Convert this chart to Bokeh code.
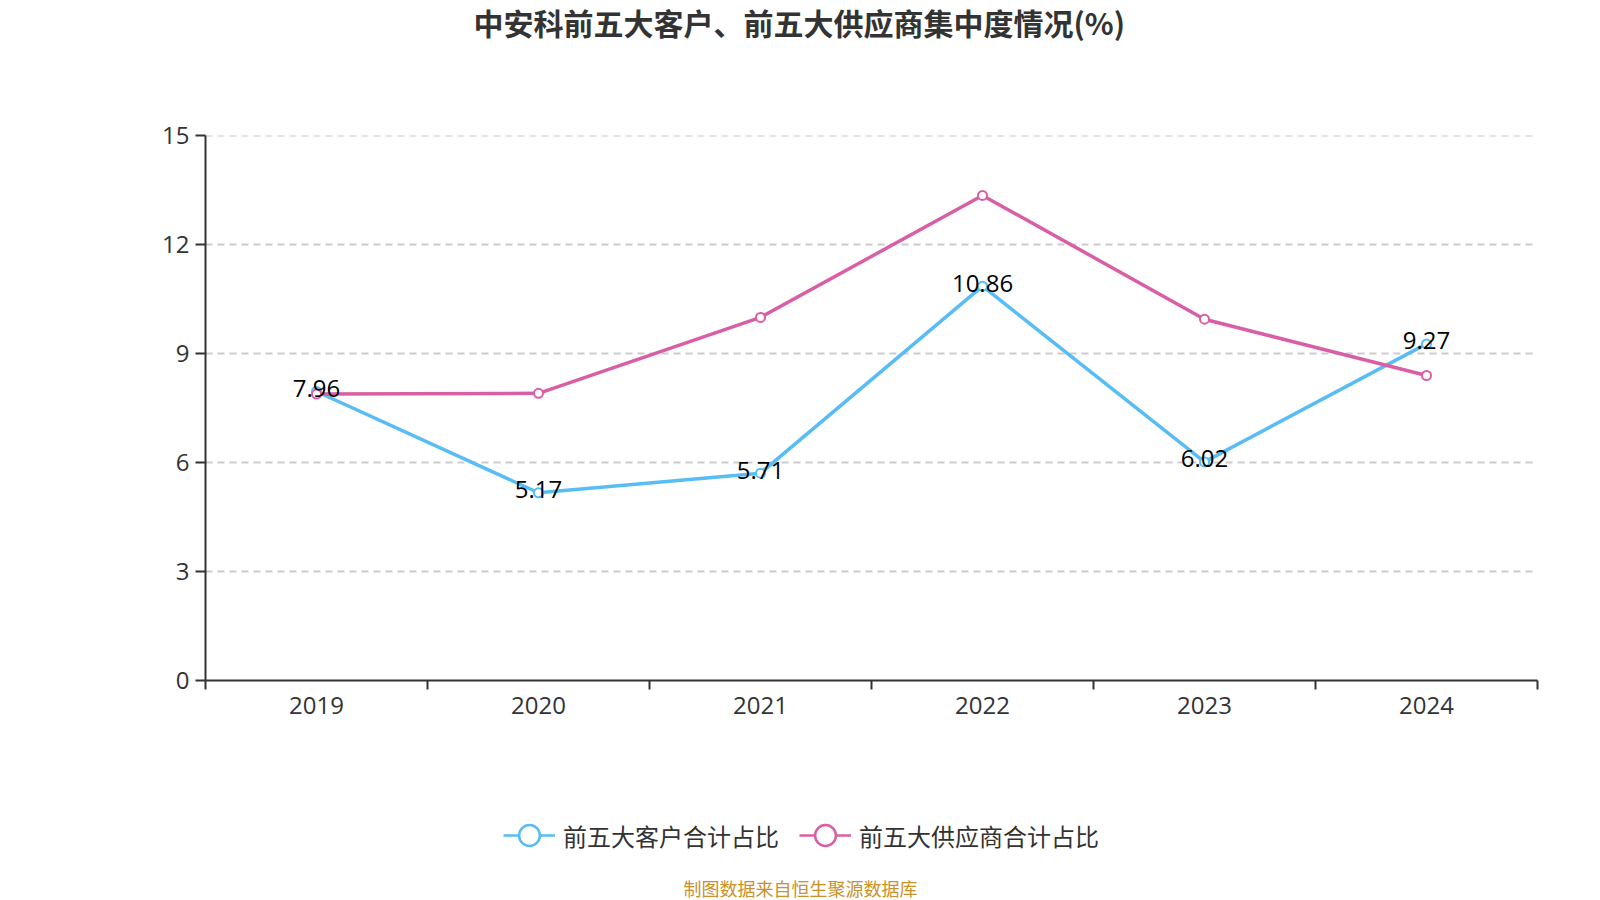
from bokeh.plotting import figure
from bokeh.layouts import column
from bokeh.models import Range1d, FixedTicker, Legend, LegendItem, ColumnDataSource, Label
from bokeh.core.properties import value
from bokeh.embed import file_html
from bokeh.resources import INLINE

# ---- data ----
years = ["2019", "2020", "2021", "2022", "2023", "2024"]
customers = [7.96, 5.17, 5.71, 10.86, 6.02, 9.27]
suppliers = [7.89, 7.91, 10.0, 13.36, 9.95, 8.40]
y_ticks = [0, 3, 6, 9, 12, 15]
title_text = "中安科前五大客户、前五大供应商集中度情况(%)"
series_names = ["前五大客户合计占比", "前五大供应商合计占比"]
footer_text = "制图数据来自恒生聚源数据库"

BLUE = "#58bdf5"
PINK = "#d85fa6"
NUM_FONT = "Open Sans"
CJK_FONT = "Noto Sans CJK SC"

W = 1600
TOP_H, MAIN_H, BOT_H = 110, 670, 120
LEFT, RIGHT = 205, 63


def blank_fig(h):
    f = figure(width=W, height=h, output_backend="svg", toolbar_location=None,
               x_axis_location=None, y_axis_location=None,
               x_range=Range1d(0, 1), y_range=Range1d(0, 1),
               min_border_left=0, min_border_right=0, min_border_top=0, min_border_bottom=0)
    f.outline_line_color = None
    f.xgrid.visible = False
    f.ygrid.visible = False
    f.background_fill_color = "white"
    f.border_fill_color = "white"
    return f


# ---- title strip ----
top = blank_fig(TOP_H)
top.add_layout(Label(x=268, y=TOP_H - 21, x_units="screen", y_units="screen", text=title_text,
                     text_align="left", text_baseline="middle", text_font=CJK_FONT,
                     text_font_style="bold", text_font_size="30px", text_color="#333333"))

# ---- main chart ----
xs = [i + 0.5 for i in range(len(years))]
p = figure(width=W, height=MAIN_H, output_backend="svg", toolbar_location=None,
           x_range=Range1d(0, len(years)), y_range=Range1d(0, 15.01),
           min_border_left=LEFT, min_border_right=RIGHT, min_border_top=25,
           min_border_bottom=100)
p.outline_line_color = None
p.background_fill_color = "white"
p.border_fill_color = "white"

xa = p.xaxis[0]
xa.ticker = FixedTicker(ticks=xs, minor_ticks=list(range(len(years) + 1)))
xa.major_label_overrides = {x: y for x, y in zip(xs, years)}
xa.major_tick_out = 0
xa.major_tick_in = 0
xa.minor_tick_out = 9
xa.minor_tick_in = 0
xa.minor_tick_line_color = "#333333"
xa.minor_tick_line_width = 2
xa.axis_line_color = "#333333"
xa.axis_line_width = 2
xa.major_label_text_font = NUM_FONT
xa.major_label_text_font_size = "24px"
xa.major_label_text_color = "#333333"
xa.major_label_standoff = 7

ya = p.yaxis[0]
ya.ticker = FixedTicker(ticks=y_ticks)
ya.minor_tick_line_color = None
ya.major_tick_out = 10
ya.major_tick_in = 0
ya.major_tick_line_color = "#333333"
ya.major_tick_line_width = 2
ya.axis_line_color = "#333333"
ya.axis_line_width = 2
ya.major_label_text_font = NUM_FONT
ya.major_label_text_font_size = "24px"
ya.major_label_text_color = "#333333"
ya.major_label_standoff = 6

p.xgrid.visible = False
p.ygrid.grid_line_color = "#cccccc"
p.ygrid.grid_line_width = 2
p.ygrid.grid_line_dash = "7 5"

src = ColumnDataSource(dict(x=xs, c=customers, s=suppliers,
                            lab=["{:.2f}".format(v) for v in customers]))

p.line("x", "c", source=src, line_color=BLUE, line_width=3.5)
p.scatter("x", "c", source=src, size=9, fill_color="white", line_color=BLUE, line_width=2)
p.line("x", "s", source=src, line_color=PINK, line_width=3.5)
p.scatter("x", "s", source=src, size=9, fill_color="white", line_color=PINK, line_width=2)
p.text("x", "c", text="lab", source=src, text_align="center", text_baseline="middle",
       y_offset=-3, text_font=value(NUM_FONT), text_font_size="24px", text_color="#000000")

# ---- legend + footer strip ----
bot = blank_fig(BOT_H)
bsrc = ColumnDataSource(dict(x=xs, c=customers, s=suppliers))
lb = bot.line("x", "c", source=bsrc, line_color=BLUE, line_width=2.5, visible=False)
sb = bot.scatter("x", "c", source=bsrc, fill_color="white", line_color=BLUE,
                 line_width=2.5, visible=False)
lp = bot.line("x", "s", source=bsrc, line_color=PINK, line_width=2.5, visible=False)
sp = bot.scatter("x", "s", source=bsrc, fill_color="white", line_color=PINK,
                 line_width=2.5, visible=False)

legend = Legend(items=[LegendItem(label=series_names[0], renderers=[lb, sb]),
                       LegendItem(label=series_names[1], renderers=[lp, sp])],
                orientation="horizontal", location=(298, 39),
                glyph_width=52, glyph_height=52, label_standoff=8, spacing=20,
                padding=0, margin=0, border_line_color=None, background_fill_alpha=0,
                inactive_fill_alpha=0,
                label_text_font=CJK_FONT, label_text_font_size="24px",
                label_text_color="#333333")
bot.add_layout(legend, "center")

bot.add_layout(Label(x=478, y=13, x_units="screen", y_units="screen", text=footer_text,
                     text_align="left", text_baseline="middle", text_font=CJK_FONT,
                     text_font_size="18px", text_color="#c9912a"))

layout = column(top, p, bot, spacing=0)
open("out.html", "w").write(file_html(layout, INLINE))
